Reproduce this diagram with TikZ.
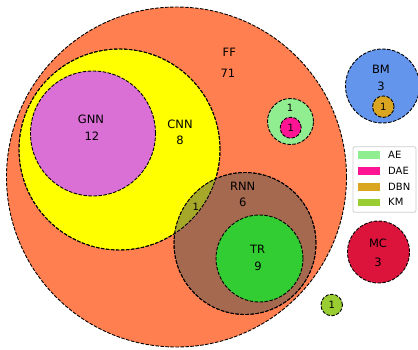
\documentclass[tikz,border=0pt]{standalone}
\usepackage{fontspec}
\setmainfont{DejaVu Sans}

\definecolor{ffcol}{HTML}{FF7F50}
\definecolor{cnncol}{HTML}{FFFF00}
\definecolor{gnncol}{HTML}{DA70D6}
\definecolor{rnncol}{RGB}{165,105,80}
\definecolor{trcol}{HTML}{32CD32}
\definecolor{aecol}{HTML}{90EE90}
\definecolor{daecol}{HTML}{FF1493}
\definecolor{dbncol}{HTML}{DAA520}
\definecolor{kmcol}{HTML}{9ACD32}
\definecolor{bmcol}{HTML}{6495ED}
\definecolor{mccol}{HTML}{DC143C}
\definecolor{lenscol}{RGB}{166,168,42}
\definecolor{legendedge}{RGB}{204,204,204}

\tikzset{
  setcircle/.style={circle, inner sep=0pt, outer sep=0pt, draw=black, line width=0.9pt, dash pattern=on 3.5pt off 1.5pt},
  setoutline/.style={draw=black, line width=0.9pt, dash pattern=on 3.5pt off 1.5pt},
  setlabel/.style={font=\fontsize{11.5}{13}\selectfont},
  smalllabel/.style={font=\fontsize{10}{12}\selectfont},
}

\begin{document}
\begin{tikzpicture}[x=1pt,y=-1pt]
    \useasboundingbox (0,0) rectangle (418,349);

    % Draw the big sets
    \node[setcircle, fill=ffcol, minimum size=340pt] (ff) at (176.5,177) {};
    \node[setcircle, fill=cnncol, minimum size=201pt] (cnn) at (119.5,149.5) {};
    \node[setcircle, fill=gnncol, minimum size=125pt] (gnn) at (93,133.5) {};
    \node[setcircle, fill=rnncol, minimum size=142pt] (rnn) at (245,243.5) {};

    % Overlap of CNN and RNN
    \begin{scope}
        \clip (cnn.center) circle[radius=100.5pt];
        \fill[lenscol] (rnn.center) circle[radius=71pt];
    \end{scope}
    \draw[setoutline] (cnn.center) circle[radius=100.5pt];
    \draw[setoutline] (rnn.center) circle[radius=71pt];

    \node[setcircle, fill=trcol, minimum size=87pt] (tr) at (259.5,258.5) {};

    % Small sets inside FF
    \node[setcircle, fill=aecol, minimum size=46pt] (ae) at (290.5,121.5) {};
    \node[setcircle, fill=daecol, minimum size=21pt] (dae) at (290.7,127.7) {};

    % Sets outside FF
    \node[setcircle, fill=bmcol, minimum size=74pt] (bm) at (382.5,86) {};
    \node[setcircle, fill=dbncol, minimum size=21.5pt] (dbn) at (383.3,106.7) {};
    \node[setcircle, fill=mccol, minimum size=62pt] (mc) at (378.5,252) {};
    \node[setcircle, fill=kmcol, minimum size=21.5pt] (km) at (331.7,305) {};

    % Label sets
    \node[setlabel] (fflabel) at (229.3,52.7) {FF};
    \node[setlabel] (ffcount) at (228,73.3) {71};
    \node[setlabel] (cnnlabel) at (180,124.3) {CNN};
    \node[setlabel] (cnncount) at (180,140) {8};
    \node[setlabel] (gnnlabel) at (91,119) {GNN};
    \node[setlabel] (gnncount) at (92,136) {12};
    \node[setlabel] (rnnlabel) at (242.7,186.7) {RNN};
    \node[setlabel] (rnncount) at (242.7,202.3) {6};
    \node[setlabel] (trlabel) at (257.7,249.3) {TR};
    \node[setlabel] (trcount) at (258,266.3) {9};
    \node[setlabel] (bmlabel) at (381,69.3) {BM};
    \node[setlabel] (bmcount) at (381,86) {3};
    \node[setlabel] (mclabel) at (378,243) {MC};
    \node[setlabel] (mccount) at (378,262) {3};

    \node[smalllabel] (aecount) at (290,107.7) {1};
    \node[smalllabel] at (dae) {1};
    \node[smalllabel] at (dbn) {1};
    \node[smalllabel] at (km) {1};
    \node[smalllabel] (lenscount) at (195.7,206.7) {1};

    % Legend
    \node[draw=legendedge, line width=0.8pt, fill=white, rounded corners=2pt,
          minimum width=63pt, minimum height=65.6pt, inner sep=0pt] (legend) at (384.5,179.5) {};
    \foreach \name/\col/\y in {AE/aecol/155, DAE/daecol/171, DBN/dbncol/186.7, KM/kmcol/202.3} {
        \fill[\col] (357.7,\y-3.8) rectangle (380,\y+3.8);
        \node[smalllabel, anchor=west, inner sep=0pt] at (388,\y) {\name};
    }

\end{tikzpicture}
\end{document}
